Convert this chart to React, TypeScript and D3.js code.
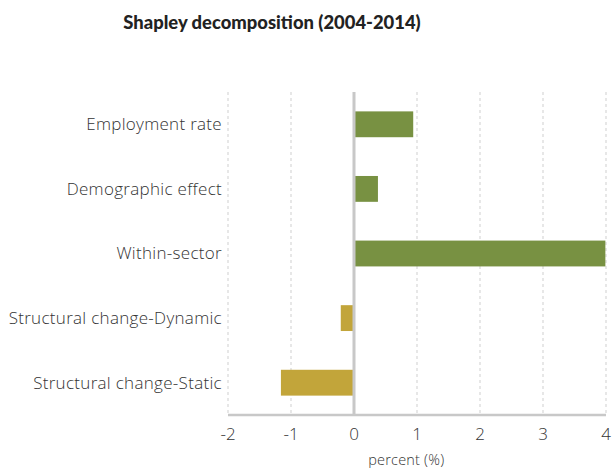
import React, { useEffect, useRef } from "react";
import * as d3 from "d3";

const categories = [
  "Employment rate",
  "Demographic effect",
  "Within-sector",
  "Structural change-Dynamic",
  "Structural change-Static",
];
const values = [0.94, 0.38, 3.99, -0.21, -1.16];
const xTicks = [-2, -1, 0, 1, 2, 3, 4];

const width = 613, height = 469;
const margin = { top: 92, right: 7, bottom: 54, left: 228 };

export default function App() {
  const ref = useRef<SVGSVGElement>(null);

  useEffect(() => {
    const svg = d3.select(ref.current);
    svg.selectAll("*").remove();
    const innerW = width - margin.left - margin.right;
    const innerH = height - margin.top - margin.bottom;
    const font = "'Open Sans', sans-serif";

    const x = d3.scaleLinear().domain([-2, 4]).range([0, innerW]);
    const y = d3.scaleBand().domain(categories).range([0, innerH]).paddingInner(0.6).paddingOuter(0.3);

    svg.append("text")
      .attr("x", 272).attr("y", 29).attr("text-anchor", "middle")
      .attr("font-family", "Lato, sans-serif").attr("font-weight", 900).attr("font-size", 18.4)
      .attr("fill", "#222").text("Shapley decomposition (2004-2014)");

    const g = svg.append("g").attr("transform", `translate(${margin.left},${margin.top})`);

    // dashed gridlines
    g.selectAll(".grid").data(xTicks.filter(d => d !== 0)).join("line")
      .attr("x1", d => x(d)).attr("x2", d => x(d))
      .attr("y1", 0).attr("y2", innerH)
      .attr("stroke", "#cfcfcf").attr("stroke-width", 1).attr("stroke-dasharray", "3,3");

    g.selectAll(".bar").data(values).join("rect")
      .attr("x", d => x(Math.min(0, d)))
      .attr("y", (d, i) => y(categories[i])!)
      .attr("width", d => Math.abs(x(d) - x(0)))
      .attr("height", y.bandwidth())
      .attr("fill", d => (d >= 0 ? "#789142" : "#c2a53a"));

    // zero line
    g.append("line").attr("x1", x(0)).attr("x2", x(0)).attr("y1", 0).attr("y2", innerH)
      .attr("stroke", "#c8c8c8").attr("stroke-width", 3);

    // bottom axis line
    g.append("line").attr("x1", 0).attr("x2", innerW).attr("y1", innerH).attr("y2", innerH)
      .attr("stroke", "#c8c8c8").attr("stroke-width", 2.5);

    g.selectAll(".xt").data(xTicks).join("text")
      .attr("x", d => x(d)).attr("y", innerH + 25).attr("text-anchor", "middle")
      .attr("font-family", font).attr("font-weight", 300).attr("font-size", 17).attr("fill", "#333")
      .text(d => d);

    g.append("text").attr("x", x(0.83)).attr("y", innerH + 50).attr("text-anchor", "middle")
      .attr("font-family", font).attr("font-weight", 300).attr("font-size", 14.5).attr("fill", "#333")
      .attr("letter-spacing", 0.2)
      .text("percent (%)");

    g.selectAll(".yl").data(categories).join("text")
      .attr("x", -6).attr("y", d => y(d)! + y.bandwidth() / 2).attr("dy", "0.35em")
      .attr("text-anchor", "end")
      .attr("font-family", font).attr("font-weight", 300).attr("font-size", 17).attr("fill", "#333")
      .attr("letter-spacing", 0.3)
      .text(d => d);
  }, []);

  return <svg ref={ref} width={width} height={height} style={{ position: "absolute", left: 0, top: 0 }} />;
}
